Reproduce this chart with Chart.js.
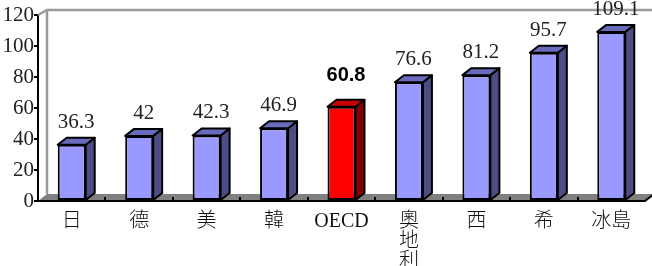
<!DOCTYPE html>
<html>
<head>
<meta charset="utf-8">
<script src="https://cdn.jsdelivr.net/npm/chart.js@4"></script>
<style>
  html, body { margin: 0; padding: 0; background: #fff; }
  #wrap { width: 652px; height: 266px; position: relative; }
</style>
</head>
<body>
<div id="wrap"><canvas id="chart"></canvas></div>
<script>
// datos del gráfico
const categories = ['日', '德', '美', '韓', 'OECD', ['奧', '地', '利'], '西', '希', '冰島'];
const values = [36.3, 42, 42.3, 46.9, 60.8, 76.6, 81.2, 95.7, 109.1];
const yMin = 0;
const yMax = 120;
const yStep = 20;
const highlight = 'OECD';

// colores de las caras
const azul = { front: '#9999ff', top: '#6b6bbd', side: '#4d4d85' };
const rojo = { front: '#ff0000', top: '#c80000', side: '#800000' };
const caras = categories.map(c => c === highlight ? rojo : azul);

const DX = 9, DY = -7;       // profundidad de barras
const WDX = 9, WDY = -5;     // profundidad de pared

const serif = "'Liberation Serif', 'Noto Sans CJK TC', serif";

// pared del fondo y piso
const fondo = {
  id: 'fondo',
  beforeDatasetsDraw(chart) {
    const { ctx, chartArea: a } = chart;
    ctx.save();
    // pared
    ctx.strokeStyle = '#9a9a9a';
    ctx.lineWidth = 2.5;
    ctx.beginPath();
    ctx.moveTo(a.left, a.top);
    ctx.lineTo(a.left + WDX, a.top + WDY);
    ctx.lineTo(chart.width + 5, a.top + WDY);
    ctx.moveTo(a.left + WDX, a.top + WDY);
    ctx.lineTo(a.left + WDX, a.bottom + DY);
    ctx.stroke();
    // piso
    ctx.fillStyle = '#808080';
    ctx.beginPath();
    ctx.moveTo(a.left, a.bottom);
    ctx.lineTo(a.left + WDX, a.bottom + DY);
    ctx.lineTo(a.right + WDX, a.bottom + DY);
    ctx.lineTo(a.right, a.bottom);
    ctx.closePath();
    ctx.fill();
    ctx.strokeStyle = '#000';
    ctx.lineWidth = 2;
    ctx.beginPath();
    ctx.moveTo(a.left, a.bottom);
    ctx.lineTo(a.right, a.bottom);
    ctx.lineTo(a.right + WDX, a.bottom + DY);
    ctx.stroke();
    // marcas entre categorías
    const x = chart.scales.x;
    for (let i = 0; i < categories.length - 1; i++) {
      const px = Math.round((x.getPixelForValue(i) + x.getPixelForValue(i + 1)) / 2);
      ctx.beginPath();
      ctx.moveTo(px, a.bottom);
      ctx.lineTo(px, a.bottom - 4);
      ctx.stroke();
    }
    ctx.restore();
  }
};

// caras laterales, superiores y etiquetas
const barras3d = {
  id: 'barras3d',
  afterDatasetsDraw(chart) {
    const { ctx } = chart;
    const meta = chart.getDatasetMeta(0);
    ctx.save();
    ctx.strokeStyle = '#000';
    ctx.lineWidth = 2;
    ctx.lineJoin = 'round';
    meta.data.forEach((bar, i) => {
      const { x, y, base, width } = bar.getProps(['x', 'y', 'base', 'width'], true);
      const l = x - width / 2, r = x + width / 2;
      // lado
      ctx.fillStyle = caras[i].side;
      ctx.beginPath();
      ctx.moveTo(r, y);
      ctx.lineTo(r + DX, y + DY);
      ctx.lineTo(r + DX, base + DY);
      ctx.lineTo(r, base);
      ctx.closePath();
      ctx.fill();
      ctx.stroke();
      // tapa
      ctx.fillStyle = caras[i].top;
      ctx.beginPath();
      ctx.moveTo(l, y);
      ctx.lineTo(l + DX, y + DY);
      ctx.lineTo(r + DX, y + DY);
      ctx.lineTo(r, y);
      ctx.closePath();
      ctx.fill();
      ctx.stroke();
      // etiqueta
      const destacado = categories[i] === highlight;
      ctx.fillStyle = destacado ? '#000' : '#222';
      ctx.font = destacado ? "bold 20px 'Liberation Sans', Arial, sans-serif" : "21px " + serif;
      ctx.textAlign = 'center';
      ctx.textBaseline = 'alphabetic';
      ctx.fillText(String(values[i]), x + DX / 2, y - (destacado ? 26 : 17));
    });
    ctx.restore();
  }
};

const ctx = document.getElementById('chart').getContext('2d');
const chart = new Chart(ctx, {
  type: 'bar',
  data: {
    labels: categories,
    datasets: [{
      data: values,
      backgroundColor: caras.map(c => c.front),
      borderColor: '#000',
      borderWidth: 2,
      borderSkipped: false,
      categoryPercentage: 1,
      barPercentage: 0.415
    }]
  },
  options: {
    responsive: true,
    maintainAspectRatio: false,
    animation: false,
    layout: { padding: { top: 15, left: 2, right: 7, bottom: 0 } },
    plugins: {
      legend: { display: false },
      tooltip: { enabled: false }
    },
    scales: {
      x: {
        grid: { display: false },
        border: { display: false },
        ticks: {
          color: '#111',
          font: { family: serif, size: 20, weight: 300, lineHeight: 1.0 },
          padding: 3,
          maxRotation: 0,
          autoSkip: false
        },
        afterFit: s => { s.height = 65; }
      },
      y: {
        min: yMin,
        max: yMax,
        grid: { drawOnChartArea: false, drawTicks: true, tickLength: 4, color: '#000', lineWidth: 2 },
        border: { color: '#000', width: 2 },
        ticks: {
          stepSize: yStep,
          color: '#222',
          padding: 0,
          font: { family: serif, size: 21 }
        },
        afterFit: s => { s.width = 36; }
      }
    }
  },
  plugins: [fondo, barras3d]
});
</script>
</body>
</html>
